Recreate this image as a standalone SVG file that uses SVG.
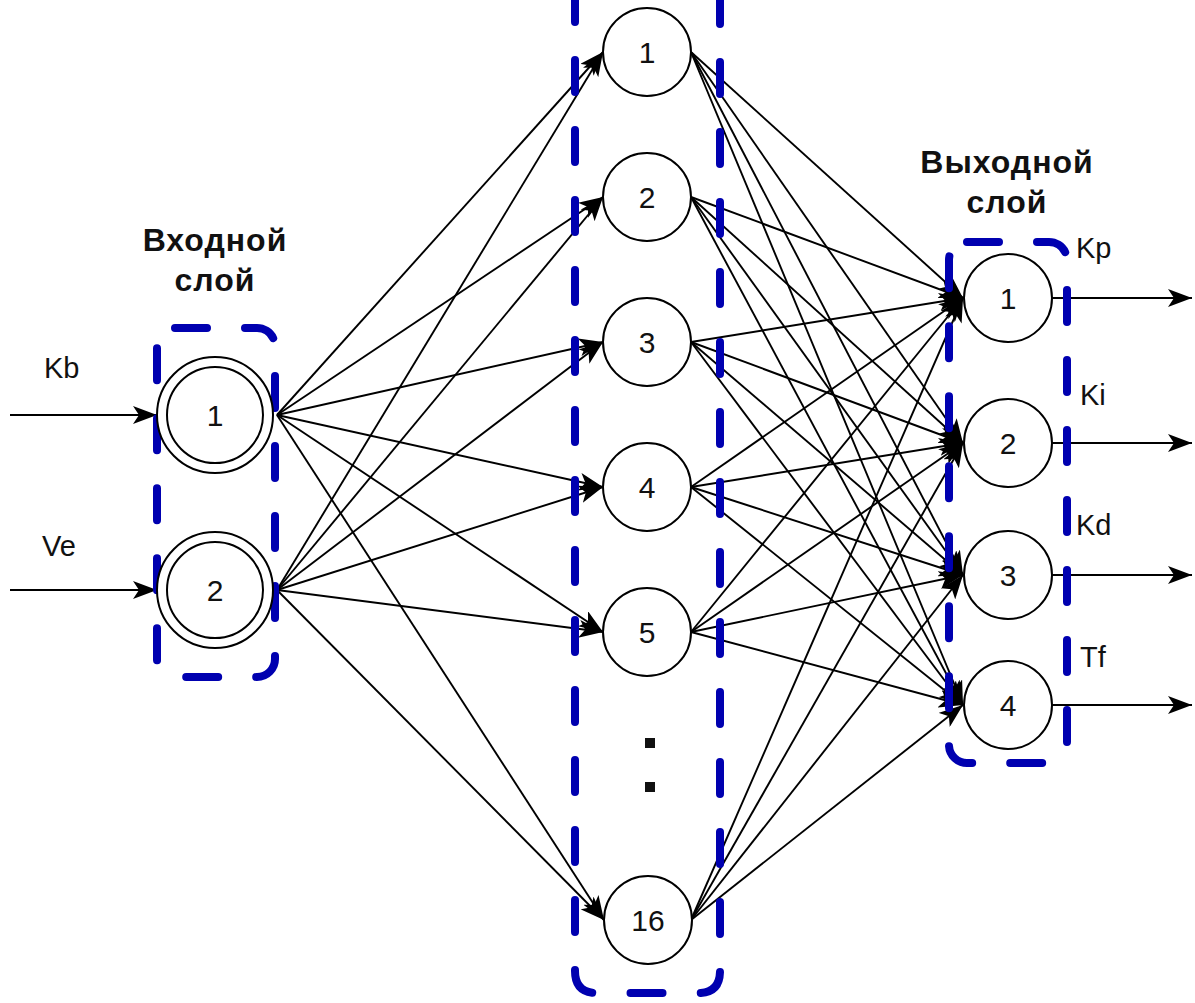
<svg xmlns="http://www.w3.org/2000/svg" width="1195" height="1003" viewBox="0 0 1195 1003">
<defs>
<marker id="ah" markerUnits="userSpaceOnUse" markerWidth="26" markerHeight="18" refX="24" refY="9" orient="auto">
<path d="M0,0 L24,9 L0,18 L6,9 z" fill="#000"/>
</marker>
</defs>
<style>
.e{stroke:#000;stroke-width:1.9;fill:none;marker-end:url(#ah)}
.io{stroke:#000;stroke-width:2.2;fill:none;marker-end:url(#ah)}
.box{fill:none;stroke:#0000b0;stroke-width:8;stroke-dasharray:32 38;stroke-linecap:round}
.n{fill:#fff;stroke:#000;stroke-width:2}
.t{font-family:"Liberation Sans",Arial,sans-serif;font-size:30px;fill:#111;text-anchor:middle}
.h{font-family:"Liberation Sans",Arial,sans-serif;font-size:32px;font-weight:bold;fill:#111;text-anchor:middle;letter-spacing:1px}
.l{font-family:"Liberation Sans",Arial,sans-serif;font-size:29px;fill:#111}
</style>
<rect width="1195" height="1003" fill="#fff"/>
<g id="connectors">
<line class="io" x1="10" y1="415" x2="157" y2="415"/>
<line class="io" x1="10" y1="590" x2="157" y2="590"/>
<line class="e" x1="277" y1="415" x2="603" y2="52"/>
<line class="e" x1="277" y1="415" x2="603" y2="197"/>
<line class="e" x1="277" y1="415" x2="603" y2="342"/>
<line class="e" x1="277" y1="415" x2="603" y2="487"/>
<line class="e" x1="277" y1="415" x2="603" y2="632"/>
<line class="e" x1="277" y1="415" x2="604" y2="920"/>
<line class="e" x1="277" y1="590" x2="603" y2="52"/>
<line class="e" x1="277" y1="590" x2="603" y2="197"/>
<line class="e" x1="277" y1="590" x2="603" y2="342"/>
<line class="e" x1="277" y1="590" x2="603" y2="487"/>
<line class="e" x1="277" y1="590" x2="603" y2="632"/>
<line class="e" x1="277" y1="590" x2="604" y2="920"/>
<line class="e" x1="691" y1="52" x2="963" y2="298"/>
<line class="e" x1="691" y1="52" x2="963" y2="443"/>
<line class="e" x1="691" y1="52" x2="963" y2="575"/>
<line class="e" x1="691" y1="52" x2="963" y2="705"/>
<line class="e" x1="691" y1="197" x2="963" y2="298"/>
<line class="e" x1="691" y1="197" x2="963" y2="443"/>
<line class="e" x1="691" y1="197" x2="963" y2="575"/>
<line class="e" x1="691" y1="197" x2="963" y2="705"/>
<line class="e" x1="691" y1="342" x2="963" y2="298"/>
<line class="e" x1="691" y1="342" x2="963" y2="443"/>
<line class="e" x1="691" y1="342" x2="963" y2="575"/>
<line class="e" x1="691" y1="342" x2="963" y2="705"/>
<line class="e" x1="691" y1="487" x2="963" y2="298"/>
<line class="e" x1="691" y1="487" x2="963" y2="443"/>
<line class="e" x1="691" y1="487" x2="963" y2="575"/>
<line class="e" x1="691" y1="487" x2="963" y2="705"/>
<line class="e" x1="691" y1="632" x2="963" y2="298"/>
<line class="e" x1="691" y1="632" x2="963" y2="443"/>
<line class="e" x1="691" y1="632" x2="963" y2="575"/>
<line class="e" x1="691" y1="632" x2="963" y2="705"/>
<line class="e" x1="691" y1="920" x2="963" y2="298"/>
<line class="e" x1="691" y1="920" x2="963" y2="443"/>
<line class="e" x1="691" y1="920" x2="963" y2="575"/>
<line class="e" x1="691" y1="920" x2="963" y2="705"/>
<line class="io" x1="1052" y1="298" x2="1192" y2="298"/>
<line class="io" x1="1052" y1="443" x2="1192" y2="443"/>
<line class="io" x1="1052" y1="575" x2="1192" y2="575"/>
<line class="io" x1="1052" y1="705" x2="1192" y2="705"/>
</g>
<g id="layer-boxes">
<rect class="box" x="157" y="328" width="118" height="349" rx="18"/>
<path class="box" d="M575,-10 V971 Q575,993 597,993 H698 Q720,993 720,971 V-10"/>
<rect class="box" x="949" y="242" width="118" height="521" rx="18"/>
</g>
<g id="labels">
<text class="h" x="215" y="251">Входной</text>
<text class="h" x="215" y="291">слой</text>
<text class="h" x="1007" y="173">Выходной</text>
<text class="h" x="1007" y="213">слой</text>
<text class="l" x="44" y="378">Kb</text>
<text class="l" x="42" y="556">Ve</text>
<text class="l" x="1076" y="258">Kp</text>
<text class="l" x="1080" y="405">Ki</text>
<text class="l" x="1076" y="535">Kd</text>
<text class="l" x="1080" y="667">Tf</text>
</g>
<g id="in1"><circle class="n" cx="215" cy="415" r="58"/><circle class="n" cx="215" cy="415" r="48"/><text class="t" x="215" y="426">1</text></g>
<g id="in2"><circle class="n" cx="215" cy="590" r="58"/><circle class="n" cx="215" cy="590" r="48"/><text class="t" x="215" y="601">2</text></g>
<g id="h1"><circle class="n" cx="647" cy="52" r="44"/><text class="t" x="647" y="63">1</text></g>
<g id="h2"><circle class="n" cx="647" cy="197" r="44"/><text class="t" x="647" y="208">2</text></g>
<g id="h3"><circle class="n" cx="647" cy="342" r="44"/><text class="t" x="647" y="353">3</text></g>
<g id="h4"><circle class="n" cx="647" cy="487" r="44"/><text class="t" x="647" y="498">4</text></g>
<g id="h5"><circle class="n" cx="647" cy="632" r="44"/><text class="t" x="647" y="643">5</text></g>
<g id="dots"><rect x="645" y="738" width="10" height="10" fill="#111"/><rect x="645" y="782" width="10" height="10" fill="#111"/></g>
<g id="h16"><circle class="n" cx="648" cy="920" r="44"/><text class="t" x="648" y="931">16</text></g>
<g id="o1"><circle class="n" cx="1008" cy="298" r="44"/><text class="t" x="1008" y="309">1</text></g>
<g id="o2"><circle class="n" cx="1008" cy="443" r="44"/><text class="t" x="1008" y="454">2</text></g>
<g id="o3"><circle class="n" cx="1008" cy="575" r="44"/><text class="t" x="1008" y="586">3</text></g>
<g id="o4"><circle class="n" cx="1008" cy="705" r="44"/><text class="t" x="1008" y="716">4</text></g>
</svg>
